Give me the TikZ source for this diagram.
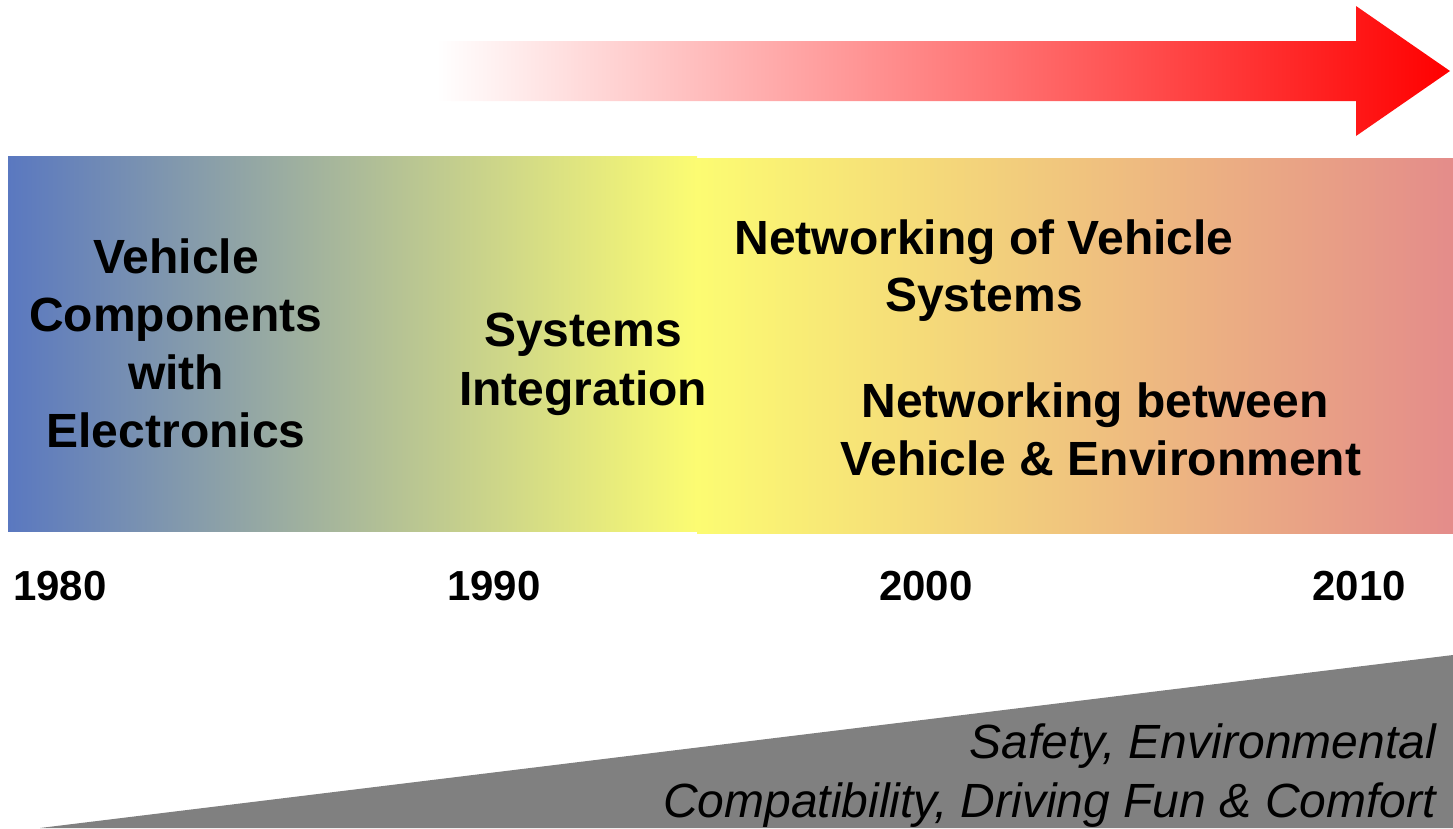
\documentclass[tikz,border=0pt]{standalone}
\usepackage{fontspec}
\setmainfont{Liberation Sans}
\begin{document}
\begin{tikzpicture}[x=1pt,y=-1pt,
  lbl/.style={anchor=base,inner sep=0pt,font=\fontsize{48}{57}\selectfont\bfseries,text=black},
  yr/.style={anchor=base,inner sep=0pt,font=\fontsize{42}{50}\selectfont\bfseries,text=black},
  goal/.style={anchor=base east,inner sep=0pt,font=\fontsize{48}{58}\selectfont\itshape,text=black}]
\definecolor{bandblue}{RGB}{90,120,192}
\definecolor{bandyellow}{RGB}{252,252,114}
\definecolor{bandpink}{RGB}{228,140,138}
\definecolor{wedgegray}{RGB}{128,128,128}
\useasboundingbox (0,0) rectangle (1453,828);
% top arrow
\shade[left color=white,right color=red]
  (437,41) -- (1356,41) -- (1356,6) -- (1450,71) -- (1356,136) -- (1356,101) -- (437,101) -- cycle;
% bands
\shade[left color=bandblue,right color=bandyellow] (8,156) rectangle (697,531);
\shade[left color=bandyellow,right color=bandpink] (697,158) rectangle (1453,533);
% wedge
\fill[wedgegray] (40,828) -- (1453,655) -- (1453,828) -- cycle;
% texts
\node[lbl] (a1) at (176,273) {Vehicle};
\node[lbl] (a2) at (176,331) {Components};
\node[lbl] (a3) at (176,389) {with};
\node[lbl] (a4) at (176,447) {Electronics};
\node[lbl] (b1) at (583,346) {Systems};
\node[lbl] (b2) at (583,405) {Integration};
\node[lbl] (c1) at (984,254) {Networking of Vehicle};
\node[lbl] (c2) at (984,311) {Systems};
\node[lbl] (d1) at (1095,417) {Networking between};
\node[lbl] (d2) at (1101,475) {Vehicle \& Environment};
\node[yr] (y1) at (60,600) {1980};
\node[yr] (y2) at (494,600) {1990};
\node[yr] (y3) at (926,600) {2000};
\node[yr] (y4) at (1359,600) {2010};
\node[goal] (g1) at (1436,758) {Safety, Environmental};
\node[goal] (g2) at (1436,817) {Compatibility, Driving Fun \& Comfort};
\end{tikzpicture}
\end{document}
